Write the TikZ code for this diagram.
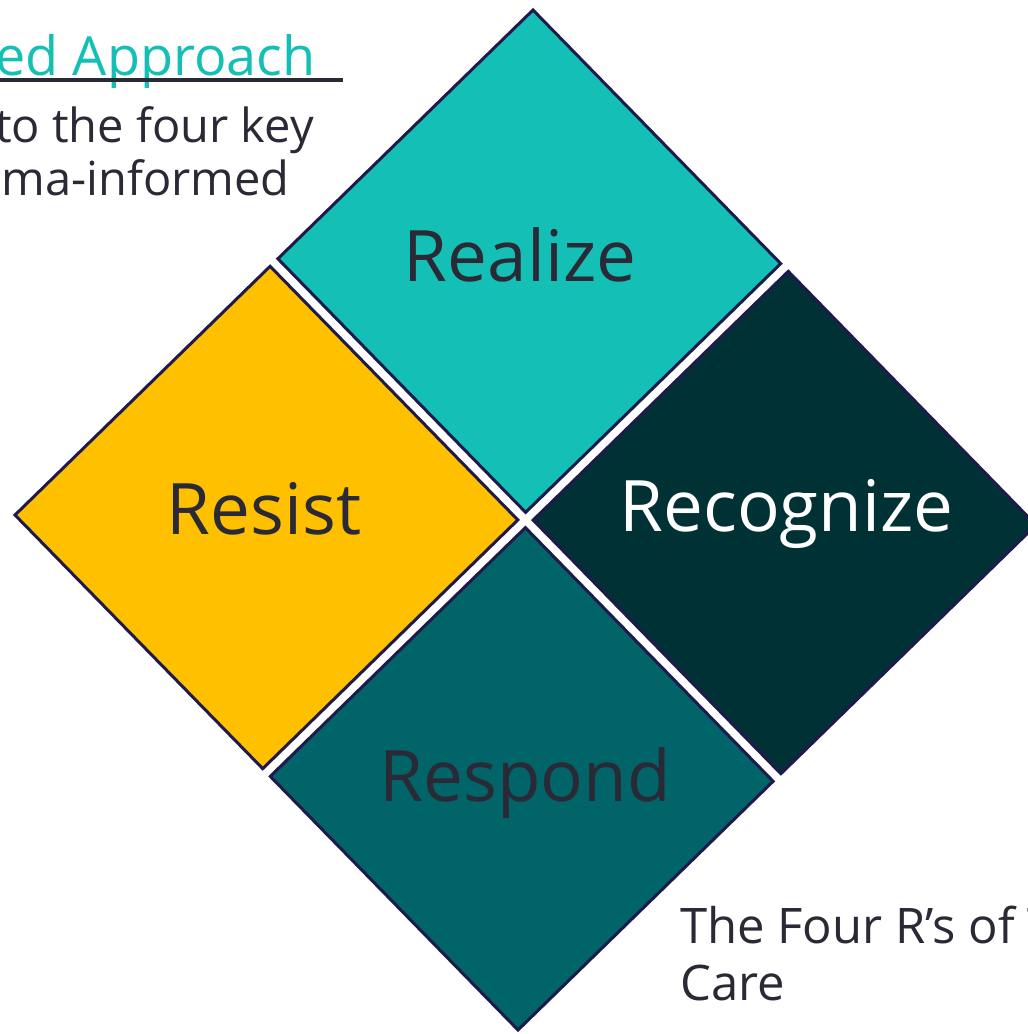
\documentclass[tikz,border=0pt]{standalone}
\usepackage{fontspec}
\setmainfont{Open Sans}
\usetikzlibrary{calc}

\definecolor{realizec}{HTML}{14BFB6}
\definecolor{resistc}{HTML}{FFC000}
\definecolor{recognizec}{HTML}{003235}
\definecolor{respondc}{HTML}{006468}
\definecolor{edgec}{HTML}{1E1A4B}
\definecolor{inkc}{HTML}{2A2A36}
\definecolor{headc}{HTML}{14BFB6}

% one quarter of the diamond, given in (u,v) grid units a0..a1, b0..b1
\newcommand\fourcell[5]{%
  \filldraw[cellline, fill=#5]
    ($(T)+#1*(u)+#3*(v)$) -- ($(T)+#2*(u)+#3*(v)$) --
    ($(T)+#2*(u)+#4*(v)$) -- ($(T)+#1*(u)+#4*(v)$) -- cycle;}

\begin{document}
\begin{tikzpicture}[x=1pt,y=-1pt,
  cellline/.style={draw=edgec, line width=3pt, line join=miter},
  biglabel/.style={anchor=base, inner sep=0pt, text=inkc, font=\fontsize{71}{80}\selectfont},
  bodytext/.style={inner sep=0pt, text=inkc, font=\fontsize{47}{53}\selectfont},
  captext/.style={anchor=base west, inner sep=0pt, text=inkc, font=\fontsize{49}{57}\selectfont}]
\useasboundingbox (0,0) rectangle (1028,1034);
\clip (0,0) rectangle (1028,1034);

% diamond grid: top corner and the two edge vectors
\coordinate (T) at (533,10);
\coordinate (u) at (251.5,257.5);
\coordinate (v) at (-259,252.5);

\def\lo{0.985}
\def\hi{1.015}
\fourcell{0}{\lo}{0}{\lo}{realizec}
\fourcell{\hi}{2}{0}{\lo}{recognizec}
\fourcell{0}{\lo}{\hi}{2}{resistc}
\fourcell{\hi}{2}{\hi}{2}{respondc}

% quadrant labels
\node[biglabel] (realize) at (520,281) {Realize};
\node[biglabel] (resist) at (264,534) {Resist};
\node[biglabel, text=white] (recognize) at (786.5,531) {Recognize};
\node[biglabel] (respond) at (525,801.5) {Respond};

% heading and intro text at the upper left
\node[anchor=base east, inner sep=0pt, text=headc, font=\fontsize{54}{62}\selectfont] (head) at (316,75) {ed Approach};
\draw[inkc, line width=4pt] (0,79.5) -- (343,79.5);
\node[bodytext, anchor=base east] (intro1) at (314,142) {to the four key};
\node[bodytext, anchor=base east] (intro2) at (290,195) {ma-informed};

% caption at the lower right
\node[captext] (cap1) at (680,943) {The Four R’s of T};
\node[captext] (cap2) at (680,1000.5) {Care};
\end{tikzpicture}
\end{document}
